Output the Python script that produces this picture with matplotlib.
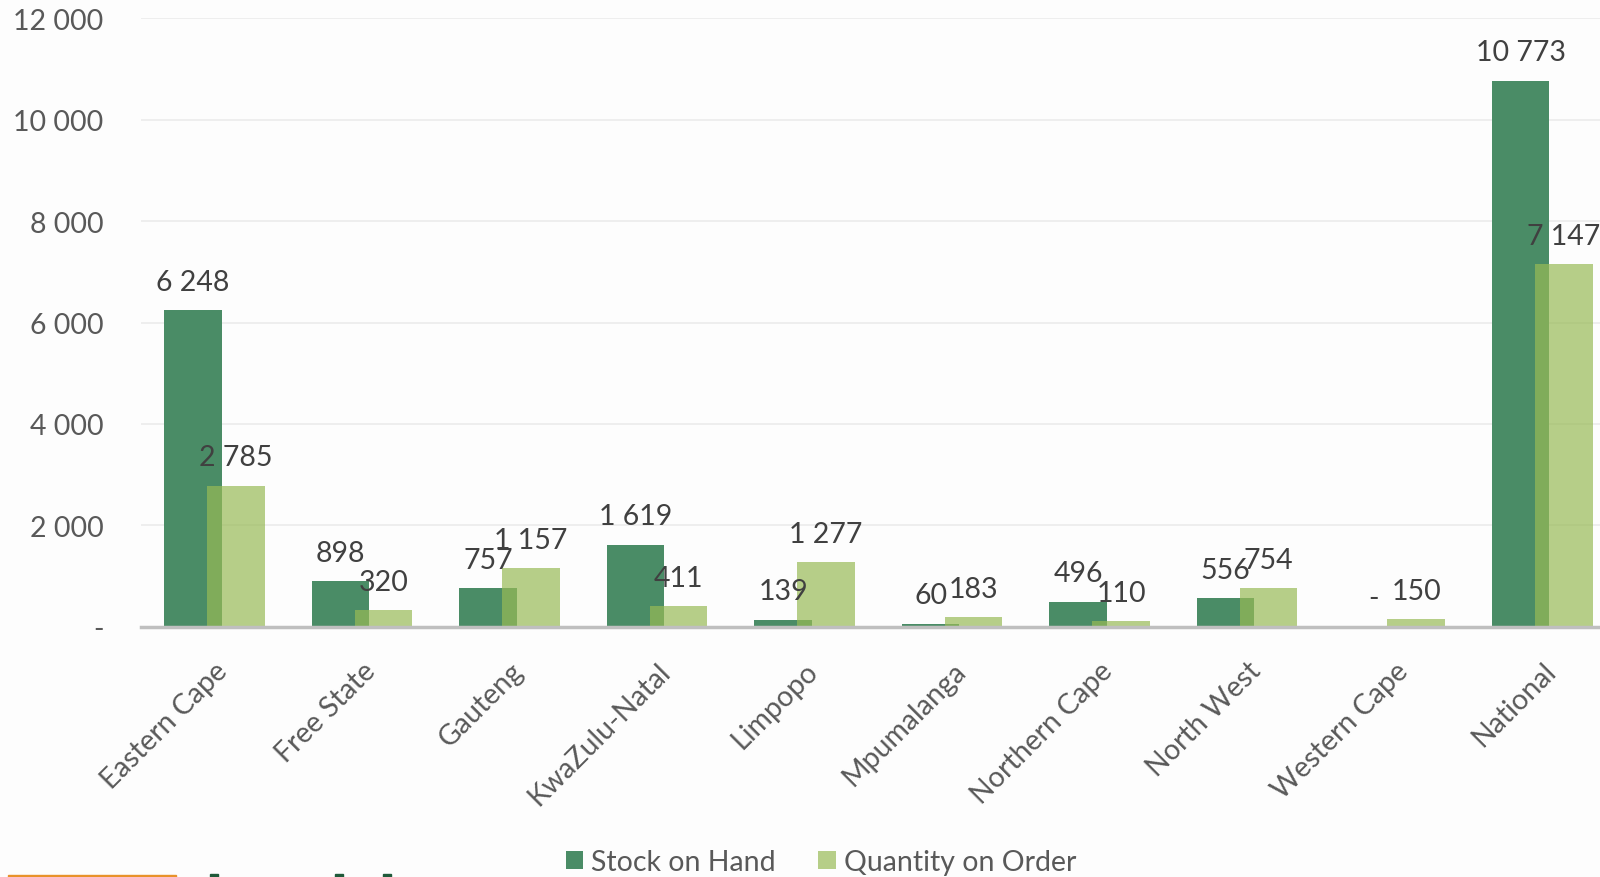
import numpy as np
import matplotlib.pyplot as plt
from matplotlib.patches import Rectangle
from matplotlib.transforms import ScaledTranslation

provinces = ["Eastern Cape", "Free State", "Gauteng", "KwaZulu-Natal", "Limpopo",
             "Mpumalanga", "Northern Cape", "North West", "Western Cape", "National"]
stock_on_hand = [6248, 898, 757, 1619, 139, 60, 496, 556, 0, 10773]
qty_on_order = [2785, 320, 1157, 411, 1277, 183, 110, 754, 150, 7147]
y_ticks = [0, 2000, 4000, 6000, 8000, 10000, 12000]

dark = "#4a8c66"
light = "#98ba56"
bg = "#fdfdfd"
fs = 20.5


def fmt(v):
    return "-" if v == 0 else f"{v:,}".replace(",", " ")


plt.rcParams['font.family'] = ['Lato', 'DejaVu Sans']

fig = plt.figure(figsize=(16, 8.78), dpi=100, facecolor=bg)
ax = fig.add_axes([0.088, 0.2851, 0.922, 0.6928], facecolor=bg)

x = np.arange(len(provinces))
w = 0.39
off = 0.1458
b1 = ax.bar(x - off, stock_on_hand, w, color=dark, label="Stock on Hand", zorder=2)
b2 = ax.bar(x + off, qty_on_order, w, color=light, alpha=0.7, label="Quantity on Order", zorder=3)

for bars, vals in ((b1, stock_on_hand), (b2, qty_on_order)):
    for r, v in zip(bars, vals):
        ax.annotate(fmt(v), (r.get_x() + r.get_width() / 2, v), xytext=(0, 11),
                    textcoords="offset points", ha="center", va="bottom",
                    fontsize=fs, color="#404040", zorder=5)

ax.set_xlim(-0.5, len(provinces) - 0.5)
ax.set_ylim(0, 12000)
ax.set_yticks(y_ticks)
ax.set_yticklabels([fmt(v) for v in y_ticks], fontsize=fs, color="#595959")
ax.set_xticks(x)
ax.set_xticklabels(provinces, rotation=45, ha="right", rotation_mode="anchor",
                   fontsize=fs, color="#595959")
shift = ScaledTranslation(-5 / 100, 0, fig.dpi_scale_trans)
for lab in ax.get_xticklabels():
    lab.set_transform(lab.get_transform() + shift)
ax.tick_params(axis="both", length=0)
ax.tick_params(axis="y", pad=27)
ax.tick_params(axis="x", pad=22)
ax.grid(axis="y", color="#ededed", linewidth=1.3, zorder=0)
for s in ("top", "right", "left"):
    ax.spines[s].set_visible(False)
ax.spines["bottom"].set_color("#bfbfbf")
ax.spines["bottom"].set_linewidth(2.5)
ax.spines["bottom"].set_zorder(4)

leg = fig.legend(handles=[b1, b2], loc="center", bbox_to_anchor=(821 / 1600, 1 - 863 / 878),
                 ncol=2, frameon=False, fontsize=fs, handlelength=0.6, handleheight=0.6,
                 handletextpad=0.3, columnspacing=1.5)
for t in leg.get_texts():
    t.set_color("#595959")

# cropped logo at the bottom-left corner
fig.patches.append(Rectangle((8 / 1600, 0), 168 / 1600, 2.5 / 878, transform=fig.transFigure,
                             color="#e8922a", zorder=0))
for lx in (210, 335, 383):
    fig.patches.append(Rectangle((lx / 1600, 0), 8 / 1600, 3 / 878, transform=fig.transFigure,
                                 color="#1f5a3a", zorder=0))

fig.savefig("out.png", dpi=100, facecolor=bg)
